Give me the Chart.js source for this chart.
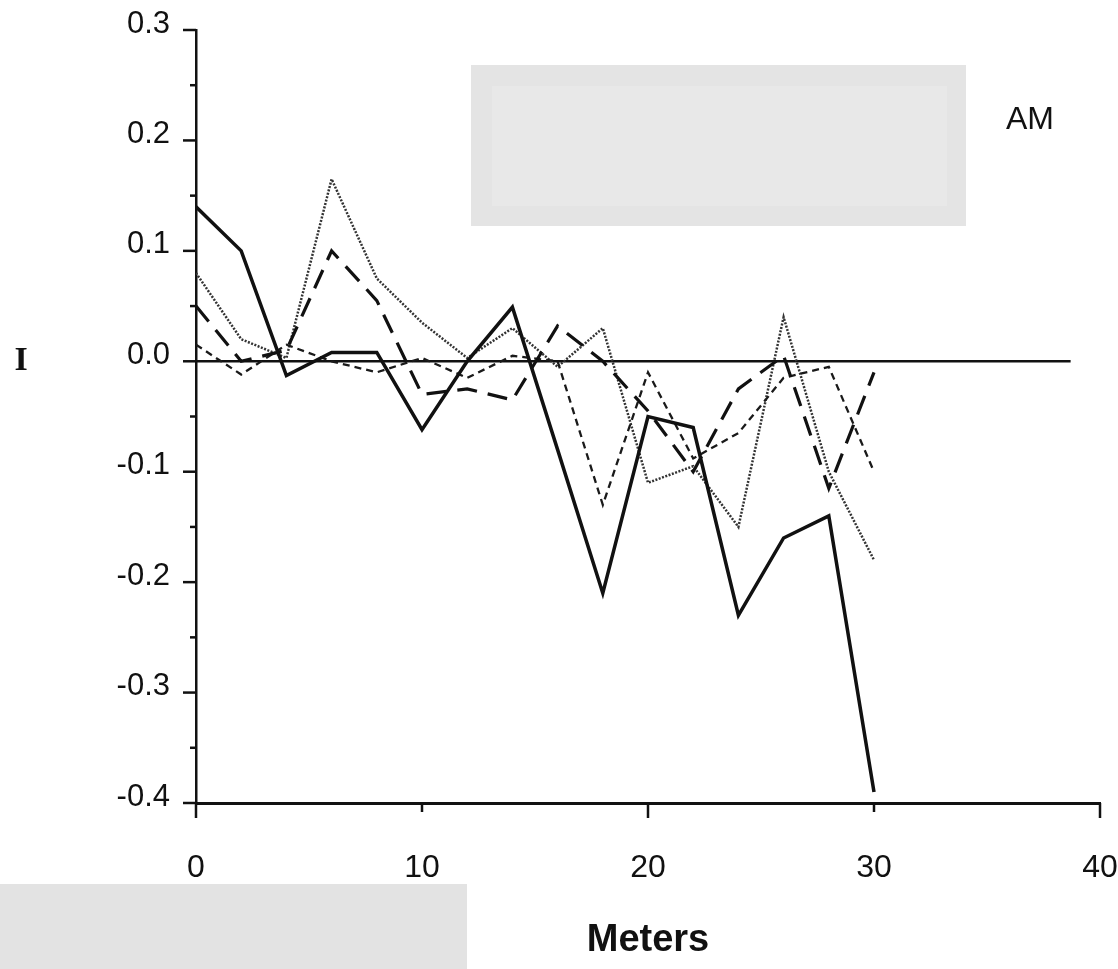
<!DOCTYPE html>
<html><head><meta charset="utf-8">
<script src="https://cdn.jsdelivr.net/npm/chart.js@4/dist/chart.umd.min.js"></script>
<style>html,body{margin:0;padding:0;background:#fff;}#wrap{width:1118px;height:969px;position:relative;}</style>
</head><body><div id="wrap"><canvas id="c" width="1118" height="969"></canvas></div>
<script>
// ---- data ----
const meters = [0, 2, 4, 6, 8, 10, 12, 14, 16, 18, 20, 22, 24, 26, 28, 30];
const solidSeries  = [0.14, 0.10, -0.013, 0.008, 0.008, -0.062, 0.0, 0.049, -0.08, -0.21, -0.05, -0.06, -0.23, -0.16, -0.14, -0.39];
const longDashSeries = [0.05, 0.0, 0.01, 0.10, 0.055, -0.03, -0.025, -0.035, 0.032, 0.0, -0.045, -0.10, -0.025, 0.005, -0.115, -0.01];
const dottedSeries = [0.08, 0.02, 0.003, 0.165, 0.075, 0.035, 0.003, 0.03, -0.005, 0.03, -0.11, -0.095, -0.15, 0.04, -0.10, -0.18];
const shortDashSeries = [0.015, -0.012, 0.015, 0.0, -0.01, 0.003, -0.015, 0.005, 0.0, -0.13, -0.01, -0.088, -0.065, -0.015, -0.005, -0.10];
const xTickValues = [0, 10, 20, 30, 40];
const xTickLabels = ['0', '10', '20', '30', '40'];
const yTickValues = [-0.4, -0.3, -0.2, -0.1, 0.0, 0.1, 0.2, 0.3];
const yTickLabels = ['-0.4', '-0.3', '-0.2', '-0.1', '0.0', '0.1', '0.2', '0.3'];
const xTitle = 'Meters';
const yTitle = 'I';
const panelLabel = 'AM';
const zeroLineEnd = 38.7;

const pts = arr => meters.map((m, i) => ({x: m, y: arr[i]}));
const FONT = "'Liberation Sans', Arial, Helvetica, sans-serif";

const decor = {
  id: 'decor',
  beforeDraw(chart) {
    const ctx = chart.ctx;
    ctx.save();
    ctx.fillStyle = '#fff';
    ctx.fillRect(0, 0, chart.width, chart.height);
    ctx.fillStyle = '#e4e4e4';
    ctx.fillRect(471, 65, 495, 161);
    ctx.fillStyle = '#e8e8e8';
    ctx.fillRect(492, 86, 455, 120);
    ctx.fillStyle = '#e3e3e3';
    ctx.fillRect(0, 884, 467, 85);
    ctx.restore();
  },
  beforeDatasetsDraw(chart) {
    const ctx = chart.ctx, xs = chart.scales.x, ys = chart.scales.y;
    ctx.save();
    ctx.strokeStyle = '#111';
    ctx.lineWidth = 2.5;
    ctx.beginPath();
    const y0 = ys.getPixelForValue(0);
    ctx.moveTo(xs.getPixelForValue(0), y0);
    ctx.lineTo(xs.getPixelForValue(zeroLineEnd), y0);
    ctx.stroke();
    ctx.restore();
  },
  afterDraw(chart) {
    const ctx = chart.ctx, xs = chart.scales.x, ys = chart.scales.y;
    ctx.save();
    ctx.strokeStyle = '#111';
    ctx.lineWidth = 2.5;
    const ax = chart.chartArea.left;
    for (let k = -8; k <= 6; k++) {
      const py = ys.getPixelForValue(k * 0.05);
      const len = (k % 2 === 0) ? 13 : 6;
      ctx.beginPath();
      ctx.moveTo(ax, py);
      ctx.lineTo(ax - len, py);
      ctx.stroke();
    }
    const by = chart.chartArea.bottom;
    xTickValues.forEach((v, i) => {
      const px = xs.getPixelForValue(v);
      const len = (i % 2 === 0) ? 15 : 9;
      ctx.beginPath();
      ctx.moveTo(px, by);
      ctx.lineTo(px, by + len);
      ctx.stroke();
    });
    ctx.fillStyle = '#111';
    ctx.textAlign = 'center';
    ctx.textBaseline = 'middle';
    ctx.font = "bold 34px 'Liberation Serif', 'Times New Roman', serif";
    ctx.fillText(yTitle, 21, ys.getPixelForValue(0));
    ctx.font = "32px " + FONT;
    ctx.fillText(panelLabel, 1030, 120);
    ctx.restore();
  }
};

new Chart(document.getElementById('c'), {
  type: 'line',
  data: {
    datasets: [
      {data: pts(dottedSeries), borderColor: '#333', borderWidth: 2.5, borderDash: [2, 1.5], order: 4},
      {data: pts(shortDashSeries), borderColor: '#1a1a1a', borderWidth: 2.3, borderDash: [7, 5], order: 3},
      {data: pts(longDashSeries), borderColor: '#111', borderWidth: 3.2, borderDash: [20, 11], order: 2},
      {data: pts(solidSeries), borderColor: '#111', borderWidth: 3.5, order: 1}
    ]
  },
  options: {
    responsive: false,
    animation: false,
    devicePixelRatio: 1,
    layout: {padding: {top: 30, right: 18, left: 0, bottom: 0}},
    elements: {
      point: {radius: 0},
      line: {tension: 0, fill: false, borderJoinStyle: 'miter', borderCapStyle: 'butt'}
    },
    plugins: {legend: {display: false}, tooltip: {enabled: false}},
    scales: {
      x: {
        type: 'linear', min: 0, max: 40,
        grid: {display: false},
        border: {display: true, color: '#111', width: 3},
        afterFit: s => { s.height = 166; s.paddingLeft = 0; s.paddingRight = 0; },
        afterBuildTicks: s => { s.ticks = xTickValues.map(v => ({value: v})); },
        ticks: {
          color: '#111', padding: 38,
          font: {family: FONT, size: 32},
          callback: v => xTickLabels[xTickValues.indexOf(v)]
        },
        title: {display: true, text: xTitle, color: '#111', padding: {top: 0, bottom: 6},
          font: {family: FONT, size: 38, weight: 'bold'}}
      },
      y: {
        type: 'linear', min: -0.4, max: 0.3,
        grid: {display: false},
        border: {display: true, color: '#111', width: 2.5},
        afterFit: s => { s.width = 196; s.paddingTop = 0; s.paddingBottom = 0; },
        afterBuildTicks: s => { s.ticks = yTickValues.map(v => ({value: v})); },
        ticks: {
          color: '#111', padding: 18, labelOffset: -6,
          font: {family: FONT, size: 31},
          callback: (v, i) => yTickLabels[i]
        }
      }
    }
  },
  plugins: [decor]
});
</script>
</body></html>
